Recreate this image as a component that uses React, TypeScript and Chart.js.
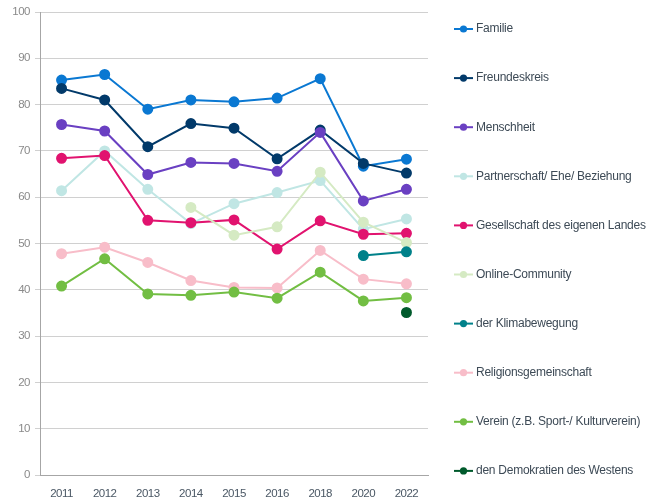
import React, { useEffect, useRef } from "react";
import { Chart, registerables } from "chart.js";

Chart.register(...registerables);

const years = ["2011", "2012", "2013", "2014", "2015", "2016", "2018", "2020", "2022"];
const yTicks = [0, 10, 20, 30, 40, 50, 60, 70, 80, 90, 100];

const familie = [85.3, 86.5, 79.0, 81.0, 80.6, 81.4, 85.6, 66.7, 68.2];
const freundeskreis = [83.5, 81.0, 70.9, 75.9, 74.9, 68.3, 74.5, 67.3, 65.2];
const menschheit = [75.7, 74.3, 64.9, 67.5, 67.3, 65.6, 74.0, 59.2, 61.7];
const partnerschaft = [61.4, 70.0, 61.7, 54.3, 58.6, 61.0, 63.6, 53.1, 55.3];
const gesellschaft = [68.4, 69.0, 55.0, 54.5, 55.1, 48.8, 54.9, 52.0, 52.2];
const online = [null, null, null, 57.8, 51.8, 53.6, 65.4, 54.6, 50.2];
const klima = [null, null, null, null, null, null, null, 47.4, 48.2];
const religion = [47.8, 49.2, 45.9, 42.0, 40.5, 40.4, 48.5, 42.3, 41.3];
const verein = [40.8, 46.7, 39.1, 38.8, 39.5, 38.2, 43.8, 37.6, 38.3];
const demokratien = [null, null, null, null, null, null, null, null, 35.1];

const seriesLabels = [
  "Familie",
  "Freundeskreis",
  "Menschheit",
  "Partnerschaft/ Ehe/ Beziehung",
  "Gesellschaft des eigenen Landes",
  "Online-Community",
  "der Klimabewegung",
  "Religionsgemeinschaft",
  "Verein (z.B. Sport-/ Kulturverein)",
  "den Demokratien des Westens",
];
const seriesData = [familie, freundeskreis, menschheit, partnerschaft, gesellschaft, online, klima, religion, verein, demokratien];
const seriesColors = [
  "#0a78d2",
  "#023a6a",
  "#6a40c2",
  "#c0e6e4",
  "#e1136f",
  "#d5eac3",
  "#00818a",
  "#f8bdc9",
  "#72be43",
  "#005a2c",
];

const FONT = "'Liberation Sans', Arial, sans-serif";

const spacingPlugin = {
  id: "tightText",
  beforeDraw(chart: any) {
    chart.ctx.letterSpacing = "-0.5px";
  },
};

const legendPlugin = {
  id: "customLegend",
  afterDraw(chart: any) {
    const ctx = chart.ctx;
    ctx.save();
    ctx.letterSpacing = "-0.25px";
    const startY = 29;
    const step = 49.1;
    chart.data.datasets.forEach((ds: any, i: number) => {
      const y = startY + i * step;
      ctx.strokeStyle = ds.borderColor;
      ctx.lineWidth = 2;
      ctx.beginPath();
      ctx.moveTo(454, y);
      ctx.lineTo(473, y);
      ctx.stroke();
      ctx.fillStyle = ds.borderColor;
      ctx.beginPath();
      ctx.arc(463.5, y, 3.6, 0, Math.PI * 2);
      ctx.fill();
      ctx.fillStyle = "#3d4a56";
      ctx.font = `12px ${FONT}`;
      ctx.textBaseline = "middle";
      ctx.textAlign = "left";
      ctx.fillText(ds.label, 476, y);
    });
    ctx.restore();
  },
};

export default function App() {
  const ref = useRef<HTMLCanvasElement | null>(null);
  useEffect(() => {
    document.body.style.margin = "0";
    if (!ref.current) return;
    const chart = new Chart(ref.current, {
      type: "line",
      data: {
        labels: years,
        datasets: seriesLabels.map((label, i) => ({
          label,
          data: seriesData[i],
          borderColor: seriesColors[i],
          backgroundColor: seriesColors[i],
          pointBackgroundColor: seriesColors[i],
          pointBorderColor: seriesColors[i],
          borderWidth: 2,
          pointRadius: 4.5,
          pointHoverRadius: 4.5,
          tension: 0,
          spanGaps: false,
          order: -i,
        })),
      },
      options: {
        animation: false,
        responsive: false,
        layout: { padding: { top: 12, right: 228, left: 0, bottom: 0 } },
        plugins: {
          legend: { display: false },
          tooltip: { enabled: false },
        },
        scales: {
          x: {
            offset: true,
            grid: { display: false, drawTicks: false },
            border: { display: true, color: "#a6a6a6", width: 1 },
            ticks: {
              color: "#4a5764",
              font: { family: FONT, size: 11.5 },
              padding: 12,
              maxRotation: 0,
            },
            afterFit(scale: any) {
              scale.height = 24;
            },
          },
          y: {
            min: 0,
            max: 100,
            afterBuildTicks(scale: any) {
              scale.ticks = yTicks.map((v) => ({ value: v }));
            },
            grid: { color: "#d0d0d0", lineWidth: 1, tickLength: 5, drawTicks: true },
            border: { display: true, color: "#a6a6a6", width: 1 },
            ticks: {
              color: "#8a8a8a",
              font: { family: FONT, size: 11.5 },
              padding: 5,
            },
            afterFit(scale: any) {
              scale.width = 40;
            },
          },
        },
      },
      plugins: [spacingPlugin, legendPlugin],
    } as any);
    return () => chart.destroy();
  }, []);
  return (
    <div style={{ position: "relative", width: 656, height: 499, background: "#ffffff" }}>
      <canvas ref={ref} width={656} height={499} style={{ width: 656, height: 499, display: "block" }} />
    </div>
  );
}
